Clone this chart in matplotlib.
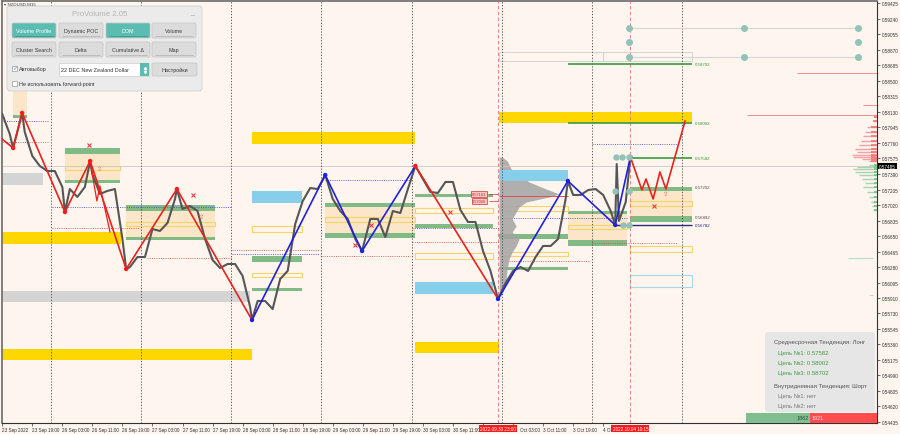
"""NZDUSD M15 chart with ProVolume zones, zigzag and targets."""

import matplotlib

matplotlib.use("Agg")
import matplotlib.pyplot as plt
import matplotlib.transforms as mtransforms
from matplotlib.patches import FancyBboxPatch, Rectangle

plt.rcParams["font.family"] = ["Liberation Sans", "DejaVu Sans"]

BG = "#fdf5ee"
T_MIN, T_MAX = 10.94, 243.9          # trading hours since 23 Sep 00:00
P_MIN, P_MAX = 0.54421, 0.59453

# --- price (close) ---
close_t = [11, 13, 13.9, 15, 16.3, 17, 19, 21, 23, 25, 27, 27.7, 29, 31, 33, 34.4, 35, 37, 39, 41,
           43, 44.0, 45, 47, 49, 51, 53, 55, 57, 57.5, 59, 61, 63, 65, 67, 69, 71, 73, 75, 77,
           77.5, 79, 81, 83, 85, 87, 89, 91, 93, 95, 97.0, 99, 101, 103, 105, 106.8, 109, 111, 113, 115,
           117, 119, 121.0, 123, 125, 127, 129, 131, 133, 135, 137, 139, 141, 143.0, 145, 147, 149, 151, 153, 155,
           157, 159, 161, 161.6, 163, 165, 167, 169, 171, 173, 174.2, 174.6, 175.2, 177, 178.25]
close_p = [0.58106, 0.57867, 0.57700, 0.57891, 0.58118, 0.57891, 0.57605, 0.57486, 0.57426, 0.57426,
           0.57235, 0.56937, 0.57211, 0.57116, 0.57235, 0.57545, 0.57390, 0.57152, 0.57188, 0.57211,
           0.56615, 0.56257, 0.56281, 0.56400, 0.56400, 0.56734, 0.56711, 0.56806, 0.57092, 0.57211,
           0.56973, 0.57009, 0.56949, 0.56615, 0.56365, 0.56269, 0.56317, 0.56317, 0.56174, 0.55804,
           0.55649, 0.55876, 0.55876, 0.55780, 0.56138, 0.56234, 0.56794, 0.57068, 0.57223, 0.57211,
           0.57378, 0.57092, 0.56949, 0.56854, 0.56615, 0.56472, 0.56854, 0.56854, 0.56639, 0.56949,
           0.56925, 0.57211, 0.57486, 0.57331, 0.57176, 0.57164, 0.57295, 0.57295, 0.56961, 0.56818,
           0.56818, 0.56472, 0.56234, 0.55900, 0.56090, 0.56234, 0.56281, 0.56234, 0.56400, 0.56532,
           0.56532, 0.56615, 0.57092, 0.57307, 0.57140, 0.57140, 0.57199, 0.57211, 0.57140, 0.56949,
           0.56782, 0.57509, 0.56830, 0.57056, 0.57593]
current_price = 0.57485

# --- zigzag ---
zz_t = [10.94, 13.9, 16.3, 27.7, 34.4, 44.0, 57.5, 77.5, 97.0, 106.8, 121.0, 143.0, 161.6, 174.2, 178.25]
zz_p = [0.57808, 0.57700, 0.58118, 0.56937, 0.57545, 0.56257, 0.57211, 0.55649, 0.57378, 0.56472,
        0.57486, 0.55900, 0.57307, 0.56782, 0.57593]
zz_minor_t = [34.4, 36.2, 37.0, 39.7]
zz_minor_p = [0.57545, 0.57068, 0.57247, 0.56699]
fc_t = [178.25, 181.3, 182.4, 184.3, 186.1, 187.7, 192.8]
fc_p = [0.57593, 0.57200, 0.57331, 0.57092, 0.57414, 0.57211, 0.58022]

# --- zones (t0, t1, low, high) ---
gold_bands = [(10.94, 42.6, 0.56555, 0.56699), (10.94, 77.5, 0.55172, 0.55303),
              (77.5, 120.9, 0.57748, 0.57891), (120.9, 143.3, 0.55256, 0.55387),
              (143.3, 194.7, 0.57998, 0.58130)]
gray_bands = [(10.94, 21.9, 0.57259, 0.57402), (10.94, 77.0, 0.55864, 0.55995)]
sky_bands = [(77.5, 90.8, 0.57044, 0.57188), (120.9, 141.7, 0.55959, 0.56102),
             (143.3, 161.6, 0.57307, 0.57438)]
peach_zones = [(13.9, 17.6, 0.58094, 0.58380), (27.7, 42.4, 0.57295, 0.57700),
               (44.0, 67.7, 0.56615, 0.57021), (97.0, 120.9, 0.56627, 0.57021),
               (161.6, 177.3, 0.56532, 0.56937), (178.25, 194.7, 0.56889, 0.57199)]
green_bars = [(13.9, 17.6, 0.58058, 0.58094), (27.7, 42.4, 0.57629, 0.57700),
              (27.7, 42.4, 0.57283, 0.57319), (44.0, 67.7, 0.56949, 0.57021),
              (44.0, 67.7, 0.56603, 0.56639), (77.5, 90.8, 0.56341, 0.56412),
              (77.5, 90.8, 0.55995, 0.56031), (97.0, 120.9, 0.56997, 0.57044),
              (97.0, 120.9, 0.56627, 0.56687), (120.9, 141.7, 0.57116, 0.57152),
              (120.9, 141.7, 0.56746, 0.56794), (143.3, 161.6, 0.56615, 0.56675),
              (143.3, 161.6, 0.56245, 0.56281), (161.6, 177.3, 0.56913, 0.56949),
              (161.6, 177.3, 0.56532, 0.56603), (178.25, 194.7, 0.57188, 0.57235),
              (178.25, 194.7, 0.56818, 0.56889)]
yellow_boxes = [(27.7, 42.4, 0.57438, 0.57486), (44.0, 67.7, 0.56770, 0.56818),
                (77.5, 90.8, 0.56699, 0.56770), (77.5, 90.8, 0.56162, 0.56210),
                (97.0, 120.9, 0.56818, 0.56877), (120.9, 141.7, 0.56925, 0.56985),
                (120.9, 141.7, 0.56377, 0.56448), (143.3, 161.6, 0.56949, 0.57009),
                (143.3, 161.6, 0.56412, 0.56460), (161.6, 177.3, 0.56734, 0.56782),
                (178.25, 194.7, 0.57009, 0.57068), (178.25, 194.7, 0.56460, 0.56532)]
sky_boxes = [(178.25, 194.7, 0.56043, 0.56186)]
gray_boxes = [(143.3, 170.9, 0.58738, 0.58845), (170.9, 194.7, 0.58738, 0.58845)]
blue_dotted = [(10.94, 23.5, 0.58022), (24.3, 72.2, 0.56997), (72.2, 95.6, 0.56436),
               (96.9, 119.6, 0.57319), (120.1, 143.5, 0.56746), (143.5, 177.3, 0.56860),
               (168.0, 190.6, 0.57748)]
red_dotted = [(10.94, 23.5, 0.57772), (24.3, 47.7, 0.56746), (49.5, 72.2, 0.56389),
              (72.2, 95.6, 0.56484), (96.1, 119.6, 0.56412), (120.1, 143.5, 0.56579),
              (143.5, 167.5, 0.56353), (168.0, 190.6, 0.56567)]

# --- targets ---
target_t0 = [161.6, 161.6, 177.9]
target_p = [0.58702, 0.58002, 0.57582]
level_labels = ["0.58702", "0.58002", "0.57582", "0.57202", "0.56882", "0.56782"]
level_label_p = [0.58702, 0.58002, 0.57582, 0.57235, 0.56877, 0.56782]
stop_p = 0.56782

# --- volume profile from 30 Sep 23:00 ---
prof_p = [0.57593, 0.57545, 0.57498, 0.57450, 0.57378, 0.57295, 0.57211, 0.57152, 0.57116, 0.57056,
          0.56997, 0.56937, 0.56854, 0.56770, 0.56699, 0.56615, 0.56532, 0.56460, 0.56377, 0.56257,
          0.56138, 0.56019, 0.55935]
prof_vol = [3, 8, 10, 12, 20, 30, 47, 60, 50, 27, 20, 17, 13, 17, 13, 20, 17, 13, 10, 8, 7, 5, 2]
prof_poc = 0.57128

# --- DOM ---
ask_p = [0.58070, 0.58022, 0.57951, 0.57891, 0.57843, 0.57784, 0.57736, 0.57688, 0.57653,
         0.57617, 0.57593, 0.57569, 0.57545]
ask_vol = [3, 4, 10, 12, 14, 16, 18, 22, 20, 25, 24, 15, 8]
bid_p = [0.57498, 0.57474, 0.57450, 0.57414, 0.57378, 0.57331, 0.57283, 0.57235, 0.57176,
         0.57116, 0.57056, 0.57009, 0.56961]
bid_vol = [8, 20, 24, 22, 18, 15, 12, 14, 10, 8, 6, 5, 4]
red_levels = [(222.6, 0.58595), (209.3, 0.58094), (240.2, 0.58213)]
green_levels = [(236.2, 0.56389), (241.9, 0.55947), (232.7, 0.55208), (237.5, 0.54731)]
buy_count, sell_count = 1862, 1921

# --- markers ---
grid_t = [178.0, 208.5, 238.8]
grid_p = [0.59131, 0.58964, 0.58785]
teal_t = [174.4, 176.1, 178.0, 174.2, 178.0, 176.3, 178.0]
teal_p = [0.57593, 0.57593, 0.57593, 0.57188, 0.57188, 0.56782, 0.56782]
cross_t = [34.1, 61.8, 104.9, 109.2, 130.2, 184.5]
cross_p = [0.57736, 0.57140, 0.56544, 0.56782, 0.56937, 0.57009]
arrow_t = [37.0, 64.2, 187.7]
arrow_p = [0.57450, 0.56889, 0.57152]
tag_t = 138.0
tag_p = [0.57152, 0.57068]
tag_text = ["0.57163", "0.57066"]

# --- axes text ---
day_lines = [24, 48, 72, 96, 120, 144, 168, 192]
event_t = [143.0, 178.25]
event_labels = ["2022.09.30 23:00", "2022.10.04 10:15"]
x_ticks = [10.94, 19, 27, 35, 43, 51, 59, 67, 75, 83, 91, 99, 107, 115, 123, 131, 139, 147, 155, 163, 171]
x_labels = ["23 Sep 2022", "23 Sep 19:00", "26 Sep 03:00", "26 Sep 11:00", "26 Sep 19:00",
            "27 Sep 03:00", "27 Sep 11:00", "27 Sep 19:00", "28 Sep 03:00", "28 Sep 11:00",
            "28 Sep 19:00", "29 Sep 03:00", "29 Sep 11:00", "29 Sep 19:00", "30 Sep 03:00",
            "30 Sep 11:00", "", "", "3 Oct 11:00", "3 Oct 19:00", "4 Oc"]
# label partly hidden behind the red time marker: only its tail shows
x_tail_t = 148.9
x_tail_label = "Oct 03:00"
y_labels = ["0.59425", "0.59240", "0.59055", "0.58870", "0.58685", "0.58500", "0.58315", "0.58130",
            "0.57945", "0.57760", "0.57575", "0.57390", "0.57205", "0.57020", "0.56835", "0.56650",
            "0.56465", "0.56280", "0.56095", "0.55910", "0.55730", "0.55545", "0.55360", "0.55175",
            "0.54990", "0.54805", "0.54620", "0.54435"]

panel_row1 = ["Volume Profile", "Dynamic POC", "DOM", "Volume"]
panel_row2 = ["Cluster Search", "Delta", "Cumulative Δ", "Map"]
panel_active = ["Volume Profile", "DOM"]
info_lines = [
    ("Среднесрочная Тенденция: Лонг", "#555555", 0),
    ("Цель №1: 0.57582", "#3f9a3f", 4),
    ("Цель №2: 0.58002", "#3f9a3f", 4),
    ("Цель №3: 0.58702", "#3f9a3f", 4),
    ("Внутридневная Тенденция: Шорт", "#555555", 0),
    ("Цель №1: нет", "#777777", 4),
    ("Цель №2: нет", "#777777", 4),
]

GREEN = "#82ba86"
PX_T = (T_MAX - T_MIN) / 875.0   # hours per pixel

fig = plt.figure(figsize=(9, 4.35), dpi=100, facecolor=BG)
ax = fig.add_axes([2 / 900, 11 / 435, 875 / 900, 422 / 435], facecolor=BG)
ax.set_xlim(T_MIN, T_MAX)
ax.set_ylim(P_MIN, P_MAX)


def rect(t0, t1, lo, hi, fc="none", ec="none", lw=0.0, z=1, alpha=1.0):
    ax.add_patch(Rectangle((t0, lo), t1 - t0, hi - lo, facecolor=fc, edgecolor=ec,
                           linewidth=lw, zorder=z, alpha=alpha))


for t0, t1, lo, hi in peach_zones:
    rect(t0, t1, lo, hi, fc="#fbe6c9", z=1)
for t0, t1, lo, hi in gold_bands:
    rect(t0, t1, lo, hi, fc="#ffd700", z=1.2)
for t0, t1, lo, hi in gray_bands:
    rect(t0, t1, lo, hi, fc="#d4d4d4", z=1.2)
for t0, t1, lo, hi in sky_bands:
    rect(t0, t1, lo, hi, fc="#87ceeb", z=1.6)
for t0, t1, lo, hi in green_bars:
    rect(t0, t1, lo, hi, fc=GREEN, z=1.3)
for t0, t1, lo, hi in yellow_boxes:
    rect(t0, t1, lo, hi, ec="#f3d56a", lw=0.8, z=1.4)
for t0, t1, lo, hi in sky_boxes:
    rect(t0, t1, lo, hi, ec="#a9d6e8", lw=0.8, z=1.4)
for t0, t1, lo, hi in gray_boxes:
    rect(t0, t1, lo, hi, ec="#cfcfcf", lw=0.6, z=1.4)
for t0, t1, p in blue_dotted:
    ax.hlines(p, t0, t1, colors="#4b4bd8", linestyles=(0, (1.2, 1.5)), lw=0.6, zorder=1.5)
for t0, t1, p in red_dotted:
    ax.hlines(p, t0, t1, colors="#d9534f", linestyles=(0, (1.2, 1.5)), lw=0.6, zorder=1.5)

# separators
for t in day_lines:
    ax.axvline(t, color="#444444", lw=0.6, ls=(0, (1.5, 2)), zorder=1.8)
for t in event_t:
    ax.axvline(t, color="#e07070", lw=0.6, ls=(0, (4, 3)), zorder=1.8)
ax.axhline(current_price, color="#c9c9c9", lw=0.6, zorder=1.7)

# volume profile
prof_t0 = event_t[0] + 0.3
ax.fill_betweenx(prof_p, prof_t0, [prof_t0 + v * PX_T for v in prof_vol],
                 color="#a3a3a3", alpha=0.85, lw=0, zorder=1.5)
ax.hlines(prof_poc, prof_t0, 161.6, colors="#e05050", lw=0.7, zorder=1.7)

# price
ax.plot(close_t, close_p, color="#565656", lw=1.5, zorder=4)

# zigzag
seg_colors = ["#e8221c"] * 7 + ["#2020e0"] * 3 + ["#e8221c"] + ["#2020e0"] * 3
for i, c in enumerate(seg_colors):
    ax.plot(zz_t[i:i + 2], zz_p[i:i + 2], color=c, lw=1.2, zorder=5)
ax.plot(zz_minor_t, zz_minor_p, color="#e8221c", lw=0.9, zorder=5)
dot_colors = ["#ff1a1a"] * 6 + ["#2020e0"] * 3 + ["#ff1a1a"] + ["#2020e0"] * 4
ax.scatter(zz_t[1:], zz_p[1:], s=10, c=dot_colors, zorder=6, linewidths=0)
ax.plot(fc_t, fc_p, color="#e8221c", lw=1.2, zorder=5)

# targets
for t0, p in zip(target_t0, target_p):
    ax.hlines(p, t0, 194.7, colors="#3a9a3a", lw=1.2, zorder=2)
ax.hlines(stop_p, 174.2, 194.7, colors="#2b2b7a", lw=1.0, zorder=2)
lab_colors = ["#3a9a3a"] * 3 + ["#555555", "#555555", "#2b2b7a"]
for txt, p, c in zip(level_labels, level_label_p, lab_colors):
    ax.text(195.3, p, txt, fontsize=3.2, color=c, va="center", zorder=6)

# teal indicator dots
for p in (grid_p[0], grid_p[2]):
    ax.hlines(p, grid_t[0], grid_t[-1], colors="#d6d6d6", lw=0.8, zorder=2)
for i, t in enumerate(grid_t):
    for j, p in enumerate(grid_p):
        if i == 1 and j == 1:
            continue
        ax.plot(t, p, "o", ms=4, color="#93c2b8", zorder=6)
ax.plot(teal_t, teal_p, "o", ls="none", ms=3.6, color="#93c2b8", zorder=6)

ax.plot(cross_t, cross_p, "x", ls="none", ms=2.2, mew=0.8, color="#e84040", zorder=6)
for t, p in zip(arrow_t, arrow_p):
    ax.text(t, p, "⇧", fontsize=4.5, color="#e86060", ha="center", va="center", zorder=6)
for p, txt in zip(tag_p, tag_text):
    ax.text(tag_t, p, txt, fontsize=2.9, color="#d03030", ha="center", va="center", zorder=6,
            bbox=dict(boxstyle="square,pad=0.15", fc="#f7c6c6", ec="#d03030", lw=0.5))
    ax.hlines(p, tag_t + 2.7, event_t[0], colors="#d03030", lw=0.5, zorder=5)

# DOM at right edge
for p, v in zip(ask_p, ask_vol):
    ax.hlines(p, T_MAX - v * PX_T, T_MAX, colors="#f3a3a3", lw=1.0, zorder=3)
    ax.hlines(p, T_MAX - min(v, 6) * PX_T, T_MAX, colors="#f07c7c", lw=1.3, zorder=3)
for p, v in zip(bid_p, bid_vol):
    ax.hlines(p, T_MAX - v * PX_T, T_MAX, colors="#a9d4b0", lw=1.0, zorder=3)
    ax.hlines(p, T_MAX - min(v, 3) * PX_T, T_MAX, colors="#7cc08a", lw=1.3, zorder=3)
for t0, p in red_levels:
    ax.hlines(p, t0, T_MAX, colors="#f08a8a", lw=0.7, zorder=3)
for t0, p in green_levels:
    ax.hlines(p, t0, T_MAX - 1, colors="#bcdcc3", lw=0.8, zorder=3)

# axes styling
for side in ("top", "left"):
    ax.spines[side].set_color("#6a6a6a")
    ax.spines[side].set_linewidth(1.2)
for side in ("bottom", "right"):
    ax.spines[side].set_color("#333333")
    ax.spines[side].set_linewidth(0.8)
ax.yaxis.tick_right()
ax.set_yticks([float(s) for s in y_labels])
ax.set_yticklabels(y_labels)
ax.set_xticks(x_ticks)
ax.set_xticklabels(x_labels)
ax.tick_params(axis="y", labelsize=3.3, length=2, width=0.5, pad=1.5, colors="#333333")
ax.tick_params(axis="x", labelsize=3.3, length=2, width=0.5, pad=1.2, colors="#333333")
for lab in ax.get_xticklabels():
    lab.set_ha("left")

trans = mtransforms.blended_transform_factory(ax.transData, ax.transAxes)
ax.text(x_tail_t, -0.0085, x_tail_label, transform=trans, fontsize=3.3, color="#333333",
        ha="left", va="top", clip_on=False)
for t, txt in zip(event_t, event_labels):
    ax.text(t, -0.0075, txt, transform=trans, fontsize=3.3, color="white", ha="center", va="top",
            zorder=10, clip_on=False,
            bbox=dict(boxstyle="square,pad=0.25", fc="#ff1a1a", ec="none"))
ytrans = mtransforms.blended_transform_factory(ax.transAxes, ax.transData)
ax.text(1.002, current_price, "0.57485", transform=ytrans, fontsize=3.3, color="white",
        va="center", ha="left", clip_on=False, zorder=10,
        bbox=dict(boxstyle="square,pad=0.2", fc="black", ec="none"))

# --- overlay in pixel space for UI panels ---
ui = fig.add_axes([0, 0, 1, 1], facecolor="none")
ui.set_xlim(0, 900)
ui.set_ylim(435, 0)
ui.axis("off")
ui.set_zorder(5)

ui.text(4, 4.5, "▾ NZDUSD,M15", fontsize=3.2, color="#444444", va="center")
ui.add_patch(FancyBboxPatch((7, 7), 195, 85, boxstyle="round,pad=0,rounding_size=3",
                            fc="#ebebeb", ec="#cfcfcf", lw=0.6))
ui.text(100, 15, "ProVolume 2.05", fontsize=5.6, color="#b3b3b3", ha="center", va="center")
ui.text(192, 13, "_", fontsize=5, color="#9a9a9a", ha="center", va="center")
btn_x = [12, 59, 106, 152]
for row_y, row in ((24, panel_row1), (43, panel_row2)):
    for x, name in zip(btn_x, row):
        active = name in panel_active
        ui.add_patch(FancyBboxPatch((x, row_y), 44, 15, boxstyle="round,pad=0,rounding_size=1.5",
                                    fc="#5bbdb1" if active else "#dcdcdc",
                                    ec="#c4c4c4", lw=0.5))
        ui.text(x + 22, row_y + 7.5, name, fontsize=3.9, ha="center", va="center",
                color="white" if active else "#3a3a3a")
        ui.hlines(row_y + 13, x + 3, x + 41, colors="#b0b0b0" if not active else "#3d8f86", lw=0.5)
ui.add_patch(Rectangle((12, 67), 5, 5, fc="white", ec="#9a9a9a", lw=0.5))
ui.text(14.5, 69, "✓", fontsize=4.5, color="#3aa89a", ha="center", va="center")
ui.text(19, 70, "Автовыбор", fontsize=3.9, color="#333333", va="center")
ui.add_patch(Rectangle((59, 64), 90, 13, fc="white", ec="#cccccc", lw=0.5))
ui.add_patch(Rectangle((140, 64), 9, 13, fc="#5bbdb1", ec="none"))
ui.plot([144.5], [68.5], "^", ms=1.6, color="white")
ui.plot([144.5], [72.5], "v", ms=1.6, color="white")
ui.text(61, 70.5, "22 DEC New Zealand Dollar", fontsize=3.9, color="#333333", va="center")
ui.add_patch(FancyBboxPatch((152, 64), 45, 13, boxstyle="round,pad=0,rounding_size=1.5",
                            fc="#dcdcdc", ec="#c4c4c4", lw=0.5))
ui.text(174.5, 70.5, "Настройки", fontsize=3.9, color="#3a3a3a", ha="center", va="center")
ui.add_patch(Rectangle((12, 82), 5, 5, fc="white", ec="#9a9a9a", lw=0.5))
ui.text(19, 84.5, "Не использовать forward-point", fontsize=3.9, color="#333333", va="center")

# info box
ui.add_patch(FancyBboxPatch((765, 333), 110, 80, boxstyle="round,pad=0,rounding_size=3",
                            fc="#e6e6e6", ec="none", alpha=0.97))
for i, (txt, c, indent) in enumerate(info_lines):
    y = 343 + i * 10.3 + (2 if i >= 4 else 0)
    ui.text(774 + indent, y, txt, fontsize=4.3, color=c, va="center")

# buy/sell balance bar
bar_x0, bar_x1 = 746, 877
split = bar_x0 + (bar_x1 - bar_x0) * buy_count / (buy_count + sell_count)
ui.add_patch(Rectangle((bar_x0, 414), split - bar_x0, 10, fc="#7fbf8f", ec="none"))
ui.add_patch(Rectangle((split, 414), bar_x1 - split, 10, fc="#ff4d4d", ec="none"))
ui.text(split - 1.5, 419, str(buy_count), fontsize=4, color="#2f4f3a", ha="right", va="center")
ui.text(split + 1.5, 419, str(sell_count), fontsize=4, color="#ffe0e0", ha="left", va="center")

fig.savefig("out.png", dpi=100, facecolor=BG)
